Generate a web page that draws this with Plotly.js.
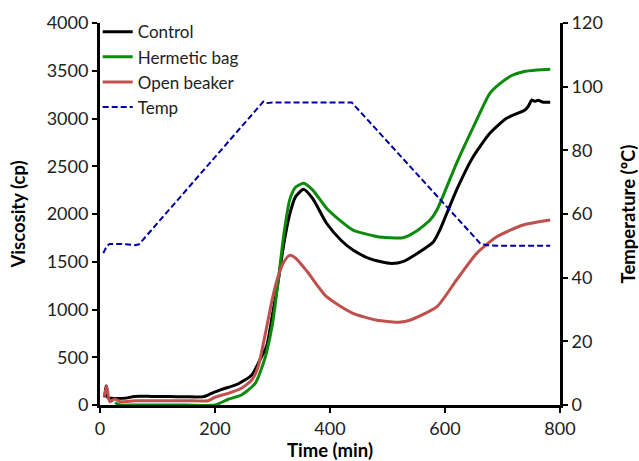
<!DOCTYPE html>
<html>
<head>
<meta charset="utf-8">
<script src="https://cdn.plot.ly/plotly-3.0.1.min.js"></script>
<style>html,body{margin:0;padding:0;background:#fff;}#chart{width:639px;height:461px;}</style>
</head>
<body>
<div id="chart"></div>
<script>
// Control
const controlTime = [8, 11, 14, 20, 30, 45, 60, 90, 120, 150, 180, 194, 212, 240, 264, 278, 290, 300, 310, 320, 330, 340, 354, 370, 394, 420, 440, 470, 504, 527, 555, 580, 591, 620, 649, 678, 707, 739, 745, 751, 756, 762, 771, 783];
const controlVisc = [80, 200, 75, 70, 68, 72, 90, 90, 88, 86, 88, 122, 164, 220, 314, 471, 620, 950, 1300, 1700, 2000, 2180, 2258, 2160, 1903, 1720, 1623, 1530, 1483, 1501, 1600, 1710, 1832, 2251, 2600, 2845, 3002, 3089, 3130, 3194, 3180, 3190, 3170, 3170];
// Hermetic bag
const hermeticTime = [26, 35, 60, 100, 150, 200, 223, 246, 270, 284, 290, 300, 310, 320, 330, 340, 354, 370, 394, 420, 440, 481, 504, 527, 550, 574, 586, 620, 650, 678, 696, 716, 736, 760, 783];
const hermeticVisc = [24, 0, 0, 0, 0, 0, 60, 105, 227, 436, 560, 850, 1300, 1800, 2150, 2280, 2321, 2250, 2060, 1920, 1832, 1765, 1752, 1752, 1820, 1937, 2042, 2531, 2920, 3264, 3368, 3450, 3490, 3508, 3515];
// Open beaker
const openTime = [7.5, 11.6, 17, 26, 35, 60, 100, 150, 188, 200, 223, 246, 264, 275, 290, 300, 310, 320, 330, 340, 360, 394, 440, 480, 504, 520, 540, 586, 620, 655, 690, 736, 783];
const openVisc = [87, 199, 35, 63, 35, 45, 45, 45, 45, 81, 122, 175, 262, 401, 820, 1120, 1350, 1500, 1567, 1540, 1400, 1134, 960, 890, 872, 866, 890, 1030, 1309, 1588, 1762, 1885, 1937];
// Temperature
const tempTime = [5.8, 12, 17, 38, 61, 68, 284, 288, 300, 438, 661, 672, 700, 783];
const tempVal = [47.7, 50.0, 50.6, 50.6, 50.2, 50.5, 95.3, 94.8, 95.0, 95.0, 50.8, 50.2, 50.0, 50.0];

const FONT = 'Lato, "Open Sans", sans-serif';

const traces = [
  {x: controlTime, y: controlVisc, name: 'Control', mode: 'lines', line: {color: '#000000', width: 3, shape: 'spline', smoothing: 0.6}},
  {x: hermeticTime, y: hermeticVisc, name: 'Hermetic bag', mode: 'lines', line: {color: '#0b8a0b', width: 3, shape: 'spline', smoothing: 0.6}},
  {x: openTime, y: openVisc, name: 'Open beaker', mode: 'lines', line: {color: '#c0504d', width: 3, shape: 'spline', smoothing: 0.6}},
  {x: tempTime, y: tempVal, name: 'Temp', mode: 'lines', yaxis: 'y2', line: {color: '#0000a0', width: 2, dash: '6px,3px'}}
];

const layout = {
  width: 639, height: 461,
  margin: {l: 100, r: 79, t: 23, b: 56},
  paper_bgcolor: '#ffffff', plot_bgcolor: '#ffffff',
  font: {family: FONT, size: 18, color: '#222222'},
  showlegend: true,
  legend: {x: -0.005, y: 1.023, xanchor: 'left', yanchor: 'top', bgcolor: 'rgba(0,0,0,0)', font: {family: FONT, size: 17, color: '#222222'}, tracegroupgap: 0, itemwidth: 30},
  xaxis: {
    range: [0, 800], tickvals: [0, 200, 400, 600, 800], showgrid: false, zeroline: false,
    showline: true, linecolor: '#000', linewidth: 3, ticks: 'outside', ticklen: 5, tickwidth: 2, tickcolor: '#000',
    title: {text: '<b>Time (min)</b>', font: {family: FONT, size: 18.5, color: '#000'}, standoff: 12},
    tickfont: {family: FONT, size: 18, color: '#222'}
  },
  yaxis: {
    range: [0, 4000], tickvals: [0, 500, 1000, 1500, 2000, 2500, 3000, 3500, 4000], showgrid: false, zeroline: false,
    showline: true, linecolor: '#000', linewidth: 3, ticks: 'outside', ticklen: 5, tickwidth: 2, tickcolor: '#000',
    title: {text: '<b>Viscosity (cp)</b>', font: {family: FONT, size: 18.5, color: '#000'}, standoff: 17},
    tickfont: {family: FONT, size: 18, color: '#222'}
  },
  yaxis2: {
    overlaying: 'y', side: 'right', range: [0, 120], tickvals: [0, 20, 40, 60, 80, 100, 120], showgrid: false, zeroline: false,
    showline: true, linecolor: '#000', linewidth: 3, ticks: 'outside', ticklen: 5, tickwidth: 2, tickcolor: '#000',
    title: {text: '<b>Temperature (ºC)</b>', font: {family: FONT, size: 18.5, color: '#000'}, standoff: 21},
    tickfont: {family: FONT, size: 18, color: '#222'}
  }
};

Plotly.newPlot('chart', traces, layout, {displayModeBar: false, staticPlot: true});
</script>
</body>
</html>
